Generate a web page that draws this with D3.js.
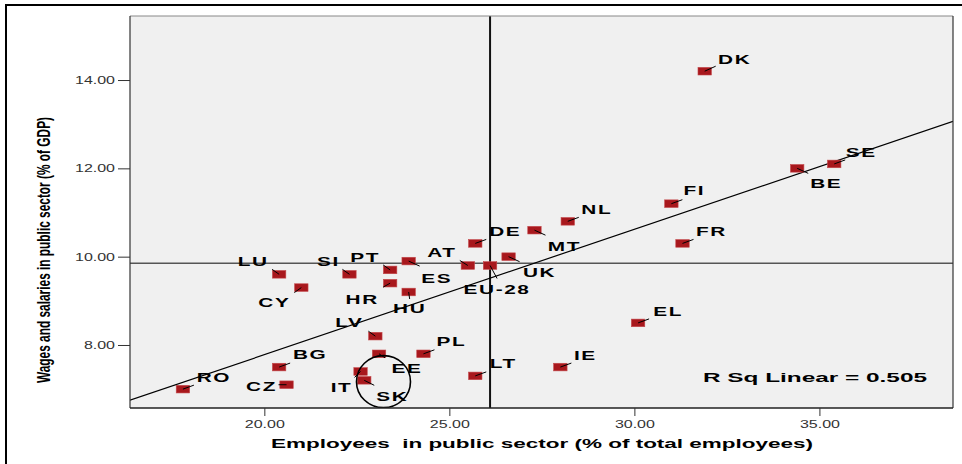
<!DOCTYPE html>
<html>
<head>
<meta charset="utf-8">
<script src="https://cdn.jsdelivr.net/npm/d3@7/dist/d3.min.js"></script>
<style>
  html, body { margin: 0; padding: 0; background: #ffffff; }
  svg { display: block; }
  text { font-family: "Liberation Sans", Arial, sans-serif; }
</style>
</head>
<body>
<svg id="chart" width="962" height="464"></svg>
<script>
// ---------- data ----------
const countries = ["DK","SE","BE","FI","FR","EL","IE","NL","MT","DE","UK","EU-28","AT","ES","PT","HR","HU","SI","LU","CY","LV","PL","EE","IT","SK","LT","BG","CZ","RO"];
const employeesPct = [31.9,35.4,34.4,31.0,31.3,30.1,28.0,28.2,27.3,25.7,26.6,26.1,25.5,23.9,23.4,23.4,23.9,22.3,20.4,21.0,23.0,24.3,23.1,22.6,22.7,25.7,20.4,20.6,17.8];
const wagesPct     = [14.2,12.1,12.0,11.2,10.3,8.5,7.5,10.8,10.6,10.3,10.0,9.8,9.8,9.9,9.7,9.4,9.2,9.6,9.6,9.3,8.2,7.8,7.8,7.4,7.2,7.3,7.5,7.1,7.0];
const xTicks = [20, 25, 30, 35];
const yTicks = [8, 10, 12, 14];
const xDomain = [16.37, 38.61];
const yDomain = [6.573, 15.45];
const meanX = 26.1;          // vertical reference line
const meanY = 9.85;          // horizontal reference line
const fitIntercept = 2.10;   // linear fit
const fitSlope = 0.284;
const rSqText = "R Sq Linear = 0.505";
const circledPoint = [23.22, 7.17];
const xTitle = "Employees  in public sector (% of total employees)";
const yTitle = "Wages and salaries in public sector (% of GDP)";

// label layout: [label dx, label dy, leader end dx, leader end dy] in px from marker
const labelOffsets = {
  "DK":[30,-12,11,-5], "SE":[27,-12,11,-4], "BE":[29,15,11,5], "FI":[23,-13,11,-4],
  "FR":[29,-12,11,-4], "EL":[30,-12,11,-4], "IE":[25,-12,11,-4], "NL":[29,-12,11,-4],
  "MT":[30,16,11,5], "DE":[30,-12,11,-4], "UK":[31,16,11,5], "EU-28":[7,24,7,13],
  "AT":[-26,-13,-8,-5], "ES":[28,17,11,5], "PT":[-25,-13,-7,-5], "HR":[-28,16,-7,4],
  "HU":[1,16,1,7], "SI":[-21,-13,-7,-5], "LU":[-26,-13,-7,-5], "CY":[-27,15,-7,5],
  "LV":[-26,-14,-7,-5], "PL":[28,-12,11,-4], "EE":[28,15,6,4], "IT":[-19,16,-6,6],
  "SK":[28,16,10,5], "LT":[28,-12,11,-4], "BG":[31,-13,11,-4], "CZ":[-25,2,-8,0],
  "RO":[31,-12,11,-4]
};

// ---------- layout ----------
const plot = {left: 130, top: 16, right: 953, bottom: 408};
const SX = 1.6; // horizontal stretch of all text

const svg = d3.select("#chart");
const x = d3.scaleLinear().domain(xDomain).range([plot.left, plot.right]);
const y = d3.scaleLinear().domain(yDomain).range([plot.bottom, plot.top]);

// outer frame (top + left)
svg.append("line").attr("x1", 5).attr("x2", 962).attr("y1", 5).attr("y2", 5)
  .attr("stroke", "#000").attr("stroke-width", 2);
svg.append("line").attr("x1", 6).attr("x2", 6).attr("y1", 4).attr("y2", 464)
  .attr("stroke", "#000").attr("stroke-width", 2);

// plot background
svg.append("rect")
  .attr("x", plot.left).attr("y", plot.top)
  .attr("width", plot.right - plot.left).attr("height", plot.bottom - plot.top)
  .attr("fill", "#f0f0f0");

const clip = svg.append("clipPath").attr("id", "pclip").append("rect")
  .attr("x", plot.left).attr("y", plot.top)
  .attr("width", plot.right - plot.left).attr("height", plot.bottom - plot.top);

const inner = svg.append("g").attr("clip-path", "url(#pclip)");

// reference lines
inner.append("line")
  .attr("x1", plot.left).attr("x2", plot.right)
  .attr("y1", y(meanY)).attr("y2", y(meanY))
  .attr("stroke", "#555").attr("stroke-width", 1.4);
inner.append("line")
  .attr("x1", x(meanX)).attr("x2", x(meanX))
  .attr("y1", plot.top).attr("y2", plot.bottom)
  .attr("stroke", "#111").attr("stroke-width", 2);

// fit line
inner.append("line")
  .attr("x1", x(xDomain[0])).attr("y1", y(fitIntercept + fitSlope * xDomain[0]))
  .attr("x2", x(xDomain[1])).attr("y2", y(fitIntercept + fitSlope * xDomain[1]))
  .attr("stroke", "#000").attr("stroke-width", 1.2);

// points
const pts = countries.map((c, i) => ({c, xv: employeesPct[i], yv: wagesPct[i]}));

inner.selectAll("rect.pt").data(pts).enter().append("rect")
  .attr("class", "pt")
  .attr("x", d => x(d.xv) - 6.7).attr("y", d => y(d.yv) - 3.8)
  .attr("width", 13.4).attr("height", 7.6)
  .attr("fill", "#a8181d")
  .attr("stroke", "#c4474a").attr("stroke-width", 0.6);

// leader lines
inner.selectAll("line.lead").data(pts).enter().append("line")
  .attr("class", "lead")
  .attr("x1", d => x(d.xv)).attr("y1", d => y(d.yv))
  .attr("x2", d => x(d.xv) + labelOffsets[d.c][2])
  .attr("y2", d => y(d.yv) + labelOffsets[d.c][3])
  .attr("stroke", "#000").attr("stroke-width", 1);

// labels
inner.selectAll("text.lbl").data(pts).enter().append("text")
  .attr("class", "lbl")
  .attr("transform", d => `translate(${x(d.xv) + labelOffsets[d.c][0]},${y(d.yv) + labelOffsets[d.c][1] + 4.6}) scale(${SX},1)`)
  .attr("text-anchor", "middle")
  .attr("font-size", 13).attr("font-weight", "bold")
  .attr("letter-spacing", 1)
  .attr("fill", "#000")
  .text(d => d.c);

// circle highlighting
inner.append("ellipse")
  .attr("cx", x(circledPoint[0])).attr("cy", y(circledPoint[1]))
  .attr("rx", 27).attr("ry", 26)
  .attr("fill", "none").attr("stroke", "#000").attr("stroke-width", 1.6);

// R Sq text
inner.append("text")
  .attr("transform", `translate(815,381.5) scale(${SX},1)`)
  .attr("text-anchor", "middle")
  .attr("font-size", 13).attr("font-weight", "bold")
  .attr("textLength", 224 / SX).attr("lengthAdjust", "spacingAndGlyphs")
  .text(rSqText);

// plot border
svg.append("line").attr("x1", plot.left).attr("x2", plot.right).attr("y1", plot.top).attr("y2", plot.top)
  .attr("stroke", "#888").attr("stroke-width", 1);
svg.append("line").attr("x1", plot.left).attr("x2", plot.left).attr("y1", plot.top).attr("y2", plot.bottom)
  .attr("stroke", "#333").attr("stroke-width", 1.2);
svg.append("line").attr("x1", plot.right).attr("x2", plot.right).attr("y1", plot.top).attr("y2", plot.bottom)
  .attr("stroke", "#333").attr("stroke-width", 1.2);
svg.append("line").attr("x1", plot.left).attr("x2", plot.right).attr("y1", plot.bottom).attr("y2", plot.bottom)
  .attr("stroke", "#222").attr("stroke-width", 1.4);

// axes
const xAxis = svg.append("g").attr("transform", `translate(0,${plot.bottom})`)
  .call(d3.axisBottom(x).tickValues(xTicks).tickSize(8).tickSizeOuter(0).tickFormat(d3.format(".2f")));
xAxis.select(".domain").remove();
xAxis.selectAll(".tick line").attr("stroke", "#333");
xAxis.selectAll(".tick text")
  .attr("y", 0).attr("dy", null)
  .attr("transform", `translate(0,19.5) scale(${SX},1)`)
  .attr("font-size", 10).attr("fill", "#333")
  .attr("font-family", '"Liberation Sans", Arial, sans-serif');

const yAxis = svg.append("g").attr("transform", `translate(${plot.left},0)`)
  .call(d3.axisLeft(y).tickValues(yTicks).tickSize(12).tickSizeOuter(0).tickFormat(d3.format(".2f")));
yAxis.select(".domain").remove();
yAxis.selectAll(".tick line").attr("stroke", "#333");
yAxis.selectAll(".tick text")
  .attr("x", 0).attr("dy", null).attr("y", 0)
  .attr("transform", `translate(-15,3.5) scale(${SX},1)`)
  .attr("font-size", 10).attr("fill", "#333")
  .attr("font-family", '"Liberation Sans", Arial, sans-serif');

// axis titles
svg.append("text")
  .attr("transform", `translate(542,448) scale(${SX},1)`)
  .attr("text-anchor", "middle")
  .attr("font-size", 13).attr("font-weight", "bold")
  .attr("textLength", 542 / SX).attr("lengthAdjust", "spacingAndGlyphs")
  .style("white-space", "pre")
  .text(xTitle);

svg.append("text")
  .attr("transform", `translate(50,250) scale(${SX},1) rotate(-90)`)
  .attr("text-anchor", "middle")
  .attr("font-size", 11).attr("font-weight", "bold")
  .attr("textLength", 266).attr("lengthAdjust", "spacingAndGlyphs")
  .text(yTitle);
</script>
</body>
</html>
